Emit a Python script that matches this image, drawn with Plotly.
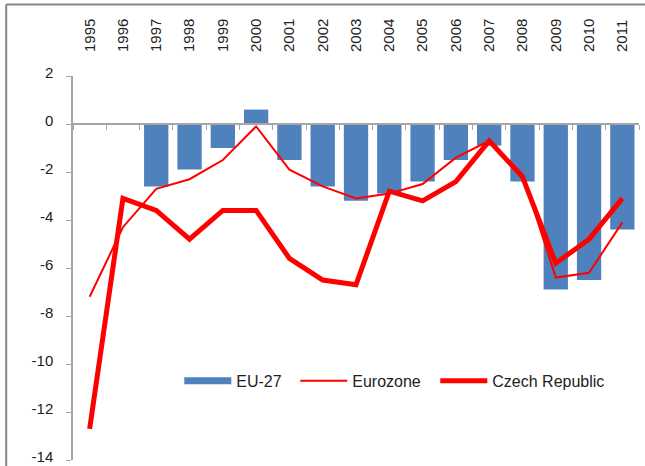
import plotly.graph_objects as go

years = list(range(1995, 2012))
year_labels = [str(y) for y in years]
eu27 = [None, None, -2.6, -1.9, -1.0, 0.6, -1.5, -2.6, -3.2, -2.9, -2.4, -1.5, -0.9, -2.4, -6.9, -6.5, -4.4]
eurozone = [-7.2, -4.3, -2.7, -2.3, -1.5, -0.1, -1.9, -2.6, -3.1, -2.9, -2.5, -1.4, -0.7, -2.1, -6.4, -6.2, -4.1]
czech = [-12.7, -3.1, -3.6, -4.8, -3.6, -3.6, -5.6, -6.5, -6.7, -2.8, -3.2, -2.4, -0.7, -2.2, -5.8, -4.8, -3.1]
y_ticks = [2, 0, -2, -4, -6, -8, -10, -12, -14]

BLUE = "#4F81BD"
RED = "#FF0000"
GRAY = "#A6A6A6"
FONT = "Liberation Sans, Arial, sans-serif"

fig = go.Figure()
fig.add_trace(go.Bar(x=years, y=eu27, marker=dict(color=BLUE, line=dict(width=0)),
                     name="EU-27", showlegend=False))
fig.add_trace(go.Scatter(x=[None], y=[None], mode="lines", name="EU-27",
                         line=dict(color=BLUE, width=7), legend="legend"))
fig.add_trace(go.Scatter(x=years, y=eurozone, mode="lines", name="Eurozone",
                         line=dict(color=RED, width=2), legend="legend2"))
fig.add_trace(go.Scatter(x=years, y=czech, mode="lines", name="Czech Republic",
                         line=dict(color=RED, width=5), legend="legend3"))

legend_common = dict(orientation="h", y=0.206, xanchor="left", yanchor="middle",
                     font=dict(size=16, family=FONT, color="#222222"),
                     itemwidth=47, bgcolor="rgba(0,0,0,0)")

fig.update_layout(
    width=645, height=466, autosize=False,
    margin=dict(l=73, r=6, t=76, b=6, autoexpand=False),
    paper_bgcolor="white", plot_bgcolor="white",
    font=dict(family=FONT, color="#222222"),
    bargap=0.27,
    showlegend=True,
    legend=dict(x=0.1878, **legend_common),
    legend2=dict(x=0.3927, **legend_common),
    legend3=dict(x=0.6401, **legend_common),
    xaxis=dict(range=[1994.5, 2011.5], side="top", tickmode="array",
               tickvals=years, ticktext=year_labels, tickangle=-90,
               tickfont=dict(size=15, family=FONT, color="#222222"),
               showline=False, showgrid=False, zeroline=False, ticks="",
               ticklabelstandoff=23, automargin=False),
    xaxis2=dict(range=[1994.5, 2011.5], overlaying="x", anchor="free", position=0.875,
                side="bottom", tickmode="array", tickvals=[y - 0.5 for y in years] + [2011.5],
                ticks="outside", ticklen=5, tickcolor=GRAY, showline=True,
                linecolor=GRAY, linewidth=1.5, showticklabels=False, showgrid=False,
                zeroline=False, automargin=False),
    yaxis=dict(range=[-14, 2], tickmode="array", tickvals=y_ticks,
               ticktext=[str(v) for v in y_ticks],
               ticks="outside", ticklen=5, tickcolor=GRAY, showline=True,
               linecolor=GRAY, linewidth=1.5, showgrid=False, zeroline=False,
               tickfont=dict(size=15, family=FONT, color="#222222"),
               ticklabelstandoff=10, ticklabelshift=-3, ticklabeloverflow="allow",
               automargin=False),
)
# dummy trace to activate xaxis2
fig.add_trace(go.Scatter(x=[None], y=[None], xaxis="x2", showlegend=False, hoverinfo="skip"))

# chart-area frame (partly visible)
fig.add_shape(type="line", xref="paper", yref="paper", x0=-0.118, x1=1.02, y0=1.186, y1=1.186,
              line=dict(color="#868686", width=2))
fig.add_shape(type="line", xref="paper", yref="paper", x0=-0.118, x1=-0.118, y0=1.186, y1=-0.02,
              line=dict(color="#868686", width=2))

fig.write_html("out.html", config={"displayModeBar": False},
               post_script="document.body.style.margin='0px';")
